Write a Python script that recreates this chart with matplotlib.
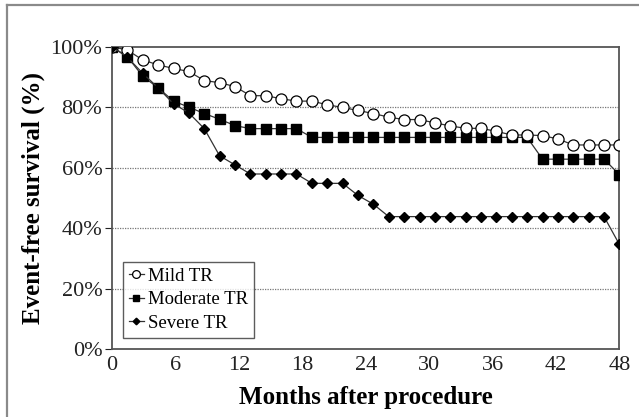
import matplotlib.pyplot as plt
import numpy as np
from matplotlib.ticker import FuncFormatter
from matplotlib.lines import Line2D

# follow-up time points (months), 34 evenly spaced readings
months = [0.0, 1.45, 2.91, 4.36, 5.82, 7.27, 8.73, 10.18, 11.64, 13.09, 14.55,
          16.0, 17.45, 18.91, 20.36, 21.82, 23.27, 24.73, 26.18, 27.64, 29.09,
          30.55, 32.0, 33.45, 34.91, 36.36, 37.82, 39.27, 40.73, 42.18, 43.64,
          45.09, 46.55, 48.0]

mild = [100, 98.9, 95.6, 94.0, 92.8, 91.8, 88.8, 88.1, 86.8, 83.8, 83.8,
        82.8, 82.0, 82.0, 80.8, 79.9, 78.9, 77.9, 76.7, 75.9, 75.9, 74.8,
        73.8, 73.0, 73.0, 72.0, 70.8, 70.8, 70.6, 69.5, 67.5, 67.5, 67.5, 67.5]

moderate = [100, 96.7, 90.2, 86.4, 82.0, 80.0, 77.9, 76.0, 73.9, 72.9, 72.9,
            72.9, 72.9, 70.0, 70.0, 70.0, 70.0, 70.0, 70.0, 70.0, 70.0, 70.0,
            70.0, 70.0, 70.0, 70.0, 70.0, 70.0, 62.8, 62.8, 62.8, 62.8, 62.8, 57.7]

severe = [100, 96.5, 91.2, 86.4, 81.1, 78.1, 72.9, 63.9, 60.9, 57.9, 57.9,
          57.9, 57.9, 54.8, 54.8, 54.8, 50.8, 47.9, 43.8, 43.8, 43.8, 43.8,
          43.8, 43.8, 43.8, 43.8, 43.8, 43.8, 43.8, 43.8, 43.8, 43.8, 43.8, 34.6]

x_ticks = [0, 6, 12, 18, 24, 30, 36, 42, 48]
y_ticks = [0, 20, 40, 60, 80, 100]

plt.rcParams['font.family'] = ['Liberation Serif', 'DejaVu Serif']

fig = plt.figure(figsize=(6.39, 4.17), dpi=100)

# partial frame around the figure (top and left edges only)
fig.add_artist(Line2D([0.0105, 1.0], [0.988, 0.988], transform=fig.transFigure,
                      color='#8a8a8a', linewidth=1.6))
fig.add_artist(Line2D([0.0105, 0.0105], [0.0, 0.988], transform=fig.transFigure,
                      color='#8a8a8a', linewidth=1.6))

ax = fig.add_axes([0.1753, 0.1630, 0.7940, 0.7250])

line_kw = dict(color='#333333', linewidth=0.9, markeredgecolor='black')
ax.plot(months, mild, marker='o', markersize=8, markerfacecolor='white',
        markeredgewidth=0.9, label='Mild TR', zorder=4, **line_kw)
ax.plot(months, moderate, marker='s', markersize=6.5, markerfacecolor='black',
        label='Moderate TR', zorder=3, **line_kw)
ax.plot(months, severe, marker='D', markersize=4.8, markerfacecolor='black',
        label='Severe TR', zorder=5, **line_kw)

for y in y_ticks[1:-1]:
    ax.axhline(y, color='#777777', linestyle=(0, (1, 1)), linewidth=0.9, zorder=1)

ax.set_xlim(0, 48)
ax.set_ylim(0, 100)
ax.set_xticks(x_ticks)
ax.set_yticks(y_ticks)
ax.yaxis.set_major_formatter(FuncFormatter(lambda v, p: f"{v:.0f}%"))
ax.tick_params(axis='both', labelsize=16, colors='#222222')
ax.tick_params(axis='x', length=0, pad=5)
ax.tick_params(axis='y', length=5, direction='out', pad=2)

for side in ['left', 'bottom', 'top', 'right']:
    ax.spines[side].set_color('#555555')
    ax.spines[side].set_linewidth(1.3)

ax.set_xlabel("Months after procedure", fontsize=18, fontweight='bold', labelpad=8)
ax.set_ylabel("Event-free survival (%)", fontsize=18, fontweight='bold', labelpad=4)

leg = ax.legend(loc='lower left', bbox_to_anchor=(0.022, 0.038), fontsize=13.5,
                frameon=True, fancybox=False, edgecolor='#333333',
                handlelength=0.8, handletextpad=0.25, borderpad=0.3,
                labelspacing=0.35, borderaxespad=0, markerscale=0.7)
leg.get_frame().set_linewidth(1.0)

plt.savefig("out.png", dpi=100)
